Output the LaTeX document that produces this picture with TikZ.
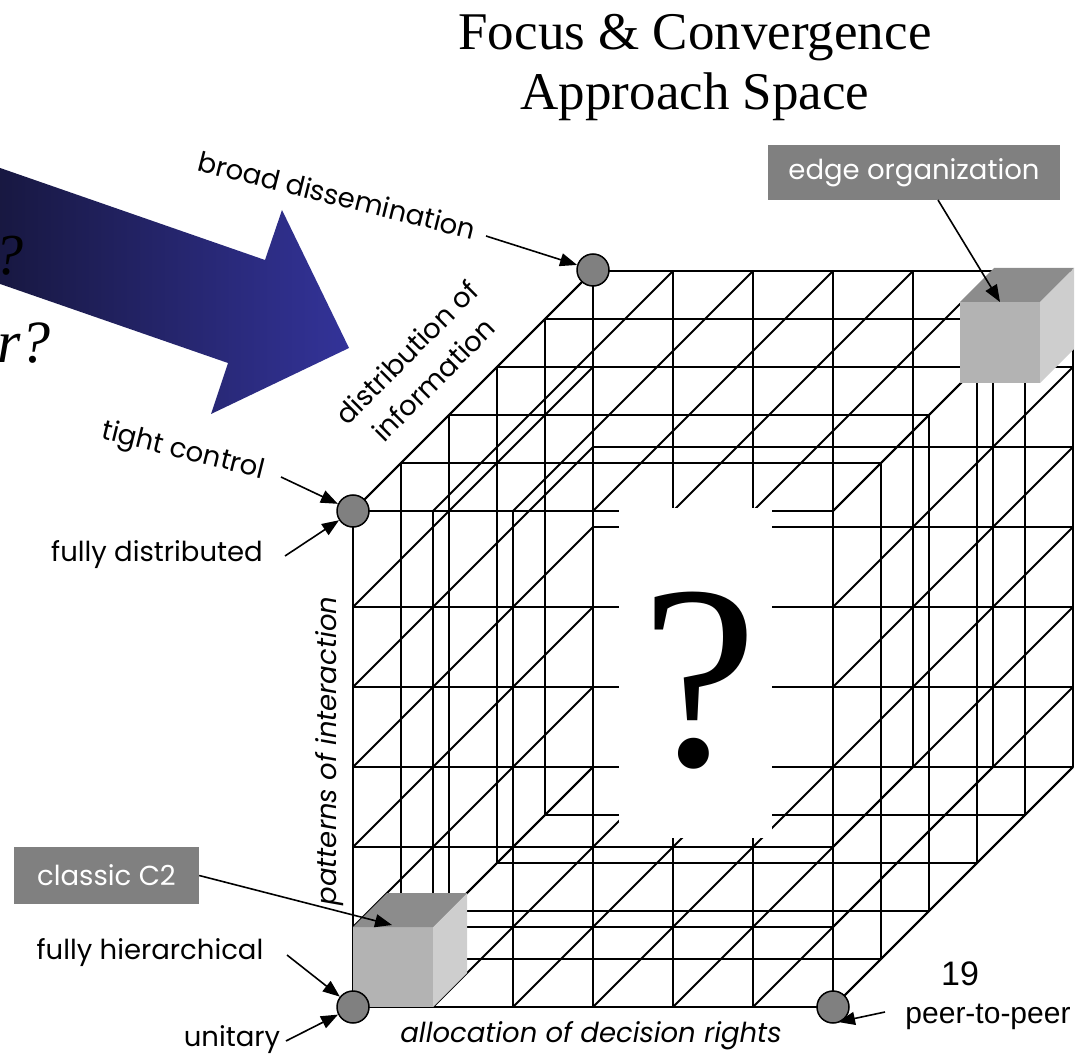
\documentclass[tikz,border=0pt]{standalone}
\usepackage{fontspec}
\setmainfont{Liberation Serif}
\newfontfamily\lblfont{Poppins}
\newfontfamily\arialfont{Liberation Sans}
\usetikzlibrary{arrows.meta}
\definecolor{dotgray}{RGB}{128,128,128}
\definecolor{boxgray}{RGB}{128,128,128}
\definecolor{cubefront}{RGB}{179,179,179}
\definecolor{cubetop}{RGB}{140,140,140}
\definecolor{cuberight}{RGB}{206,206,206}
\definecolor{navydark}{RGB}{22,22,60}
\definecolor{navylight}{RGB}{51,51,153}
\begin{document}
\begin{tikzpicture}[x=1pt,y=-1pt,
  grid/.style={line width=2pt, black},
  dot/.style={circle, fill=dotgray, draw=black, line width=1.5pt, minimum size=32pt, inner sep=0pt},
  arr/.style={line width=1.6pt, -{Triangle[length=17pt,width=13pt]}},
  lbl/.style={font=\lblfont\fontsize{27.5}{38}\selectfont, inner sep=0pt},
  ilbl/.style={font=\lblfont\itshape\fontsize{27.5}{34}\selectfont, inner sep=0pt},
  tag/.style={fill=boxgray, text=white, font=\lblfont\fontsize{27.5}{30}\selectfont, inner sep=0pt}]
\useasboundingbox (0,0) rectangle (1079,1056);
\begin{scope}
\clip (0,0) rectangle (1079,1056);
% blue arrow
\shade[left color=navydark, right color=navylight] (-20,161) -- (265,260) -- (282,210) -- (349,348) -- (211,414) -- (228,363) -- (-20,277) -- cycle;
\node[font=\itshape\fontsize{58}{60}\selectfont, anchor=base east, inner sep=0pt] (q1) at (24,275) {?};
\node[font=\itshape\fontsize{60}{60}\selectfont, anchor=base east, inner sep=0pt] (q2) at (51,363) {r?};
\end{scope}
% lattice
\foreach \i in {0,...,6} {
  \draw[grid] ({353+80*\i},511) -- ({353+80*\i},1007);
  \draw[grid] ({593+80*\i},271) -- ({593+80*\i},767);
  \draw[grid] ({353+80*\i},511) -- ({593+80*\i},271);
  \draw[grid] ({353+80*\i},1007) -- ({593+80*\i},767);
}
\foreach \h in {0,80,160,240,320,400,496} {
  \draw[grid] (353,{1007-\h}) -- (833,{1007-\h});
  \draw[grid] (593,{767-\h}) -- (1073,{767-\h});
  \draw[grid] (353,{1007-\h}) -- (593,{767-\h});
  \draw[grid] (833,{1007-\h}) -- (1073,{767-\h});
}
\foreach \k in {1,...,4} {
  \draw[grid] ({353+48*\k},{511-48*\k}) -- ({353+48*\k},{1007-48*\k});
  \draw[grid] ({833+48*\k},{511-48*\k}) -- ({833+48*\k},{1007-48*\k});
  \draw[grid] ({353+48*\k},{511-48*\k}) -- ({833+48*\k},{511-48*\k});
  \draw[grid] ({353+48*\k},{1007-48*\k}) -- ({833+48*\k},{1007-48*\k});
}
% hollow centre
\fill[white] (619,508) rectangle (772,838);
\node[font=\fontsize{262}{262}\selectfont, anchor=base, inner sep=0pt] (qm) at (700,765) {?};
% small cubes
\fill[cubefront] (353,927) rectangle (433,1007);
\fill[cubetop] (353,927) -- (433,927) -- (467,893) -- (387,893) -- cycle;
\fill[cuberight] (433,927) -- (467,893) -- (467,973) -- (433,1007) -- cycle;
\fill[cubefront] (960,302) rectangle (1040,383);
\fill[cubetop] (960,302) -- (1040,302) -- (1074,268) -- (994,268) -- cycle;
\fill[cuberight] (1040,302) -- (1074,268) -- (1074,349) -- (1040,383) -- cycle;
\coordinate (cubeA) at (392,925);
\coordinate (cubeB) at (1000,302);
% corner dots
\node[dot] (ctb) at (593,270) {};
\node[dot] (cft) at (353,511) {};
\node[dot] (cfb) at (353,1007) {};
\node[dot] (cbr) at (833,1007) {};
% title
\node[font=\fontsize{53}{60}\selectfont, anchor=base, inner sep=0pt] (t1) at (695,50) {Focus \& Convergence};
\node[font=\fontsize{53}{60}\selectfont, anchor=base, inner sep=0pt] (t2) at (695,110) {Approach Space};
% labels
\node[lbl, rotate=-14] (bd) at (337,195) {broad dissemination};
\node[lbl, rotate=-14] (tc) at (183,452) {tight control};
\node[lbl, rotate=45, align=center] (di) at (420,366) {distribution of\\information};
\node[lbl] (fd) at (157,555) {fully distributed};
\node[ilbl, rotate=90] (pi) at (330,751) {patterns of interaction};
\node[lbl] (fh) at (150,953) {fully hierarchical};
\node[lbl] (un) at (232,1040) {unitary};
\node[ilbl] (al) at (591,1036) {allocation of decision rights};
\node[tag, minimum width=185pt, minimum height=57pt] (cc) at (106.5,875.5) {classic C2};
\node[tag, minimum width=292pt, minimum height=55pt] (eo) at (914,172.5) {edge organization};
\node[font=\arialfont\fontsize{34}{36}\selectfont, anchor=base, inner sep=0pt] (n19) at (960,985) {19};
\node[font=\arialfont\fontsize{30}{34}\selectfont, anchor=base, inner sep=0pt] (pp) at (988,1023) {peer-to-peer};
% arrows
\coordinate (a1) at (486,236);
\coordinate (a2) at (938,200);
\coordinate (a3) at (281,477);
\coordinate (a4) at (285,556);
\coordinate (a6) at (287,955);
\coordinate (a7) at (286,1041);
\coordinate (a8) at (885,1012);
\coordinate (ppend) at (838,1022);
\draw[arr] (a1) -- (ctb);
\draw[arr] (a2) -- (cubeB);
\draw[arr] (a3) -- (cft);
\draw[arr] (a4) -- (cft);
\draw[arr] (cc.east) -- (cubeA);
\draw[arr] (a6) -- (cfb);
\draw[arr] (a7) -- (cfb);
\draw[arr] (a8) -- (ppend);
\end{tikzpicture}
\end{document}
